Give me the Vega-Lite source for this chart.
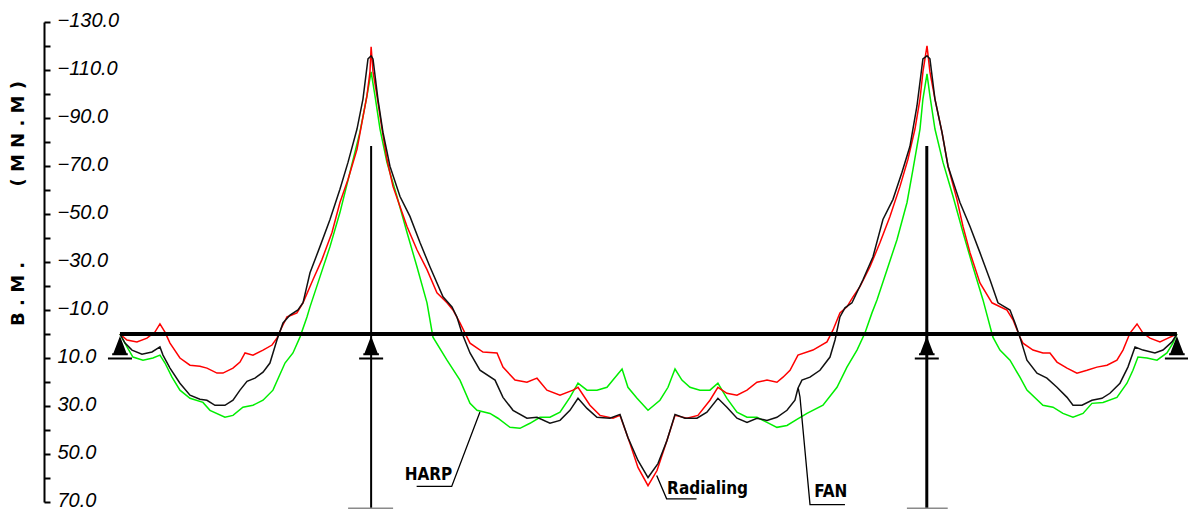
{
  "$schema": "https://vega.github.io/schema/vega-lite/v6.json",
  "autosize": {"type": "none"},
  "padding": {"left": 44, "top": 22, "right": 2, "bottom": 7},
  "width": 1142,
  "height": 480,
  "background": "white",
  "config": {"view": {"stroke": null}},
  "datasets": {
    "fan": [
      {"x":0,"bm":0},{"x":4.8,"bm":3.8},{"x":11.5,"bm":6.7},{"x":21.0,"bm":8.4},{"x":30.6,"bm":7.5},{"x":38.2,"bm":5.4},{"x":41.1,"bm":8.8},{"x":47.8,"bm":14.2},{"x":57.3,"bm":20.5},{"x":66.9,"bm":25.5},{"x":76.4,"bm":27.2},{"x":83.1,"bm":27.6},{"x":90.8,"bm":29.7},{"x":100.3,"bm":29.7},{"x":108.0,"bm":27.6},{"x":114.7,"bm":23.4},{"x":121.4,"bm":19.7},{"x":129.0,"bm":18.4},{"x":136.7,"bm":15.9},{"x":143.3,"bm":12.1},{"x":150.0,"bm":2.5},{"x":155.8,"bm":-4.6},{"x":162.5,"bm":-7.9},{"x":170.1,"bm":-10.0},{"x":174.9,"bm":-13.0},{"x":181.6,"bm":-25.5},{"x":191.1,"bm":-36.4},{"x":200.7,"bm":-47.7},{"x":210.2,"bm":-60.3},{"x":217.9,"bm":-71.5},{"x":226.5,"bm":-85.4},{"x":232.2,"bm":-97.9},{"x":237.0,"bm":-114.6},{"x":240.0,"bm":-115.9},{"x":241.8,"bm":-114.6},{"x":246.5,"bm":-97.9},{"x":251.3,"bm":-84.1},{"x":258.0,"bm":-69.9},{"x":267.6,"bm":-57.3},{"x":277.1,"bm":-49.0},{"x":286.7,"bm":-38.1},{"x":296.2,"bm":-28.0},{"x":308.7,"bm":-15.5},{"x":317.3,"bm":-11.3},{"x":322.0,"bm":-7.1},{"x":326.8,"bm":-0.4},{"x":334.5,"bm":7.9},{"x":344.0,"bm":15.1},{"x":358.4,"bm":19.2},{"x":366.0,"bm":26.4},{"x":375.6,"bm":31.8},{"x":388.9,"bm":35.1},{"x":398.5,"bm":34.7},{"x":410.9,"bm":37.2},{"x":420.5,"bm":36.0},{"x":430.0,"bm":31.8},{"x":437.7,"bm":26.8},{"x":446.3,"bm":31.0},{"x":455.8,"bm":34.7},{"x":468.2,"bm":35.1},{"x":477.8,"bm":33.5},{"x":485.4,"bm":43.1},{"x":495.0,"bm":52.7},{"x":504.6,"bm":59.8},{"x":514.1,"bm":54.0},{"x":522.7,"bm":44.4},{"x":530.4,"bm":33.5},{"x":539.9,"bm":35.1},{"x":551.4,"bm":35.1},{"x":560.9,"bm":32.6},{"x":571.4,"bm":26.8},{"x":580.0,"bm":30.5},{"x":589.6,"bm":35.1},{"x":599.2,"bm":36.8},{"x":608.7,"bm":35.1},{"x":618.3,"bm":36.0},{"x":627.8,"bm":34.7},{"x":637.4,"bm":31.8},{"x":645.0,"bm":27.6},{"x":647.9,"bm":22.6},{"x":651.7,"bm":19.2},{"x":659.4,"bm":18.0},{"x":668.9,"bm":15.1},{"x":678.5,"bm":9.6},{"x":683.3,"bm":2.5},{"x":688.0,"bm":-7.1},{"x":692.8,"bm":-10.9},{"x":699.5,"bm":-13.0},{"x":710.0,"bm":-22.6},{"x":719.6,"bm":-32.2},{"x":729.1,"bm":-47.7},{"x":738.7,"bm":-56.1},{"x":747.3,"bm":-67.4},{"x":754.9,"bm":-78.2},{"x":761.6,"bm":-95.0},{"x":767.3,"bm":-114.6},{"x":771.2,"bm":-115.9},{"x":774.0,"bm":-114.6},{"x":778.8,"bm":-97.9},{"x":785.5,"bm":-84.1},{"x":791.3,"bm":-69.9},{"x":802.7,"bm":-54.8},{"x":812.3,"bm":-44.8},{"x":821.8,"bm":-33.9},{"x":831.4,"bm":-22.6},{"x":839.0,"bm":-13.0},{"x":850.5,"bm":-10.0},{"x":855.3,"bm":-4.6},{"x":860.0,"bm":1.3},{"x":866.7,"bm":10.9},{"x":876.3,"bm":16.3},{"x":885.8,"bm":18.4},{"x":895.4,"bm":22.2},{"x":905.0,"bm":26.4},{"x":910.7,"bm":29.7},{"x":919.3,"bm":29.7},{"x":928.8,"bm":27.6},{"x":938.4,"bm":26.8},{"x":946.0,"bm":24.7},{"x":955.6,"bm":20.5},{"x":963.2,"bm":13.8},{"x":970.0,"bm":5.4},{"x":977.6,"bm":6.7},{"x":989.0,"bm":7.9},{"x":996.7,"bm":6.7},{"x":1005.3,"bm":3.3},{"x":1010,"bm":0}
    ],
    "radialing": [
      {"x":0,"bm":0},{"x":6.7,"bm":2.5},{"x":16.2,"bm":3.3},{"x":25.8,"bm":1.7},{"x":33.4,"bm":-0.8},{"x":38.2,"bm":-4.2},{"x":43.0,"bm":-0.8},{"x":47.8,"bm":3.8},{"x":57.3,"bm":10.0},{"x":66.9,"bm":13.0},{"x":76.4,"bm":13.4},{"x":83.1,"bm":14.2},{"x":92.7,"bm":16.3},{"x":98.4,"bm":16.3},{"x":108.0,"bm":14.2},{"x":114.7,"bm":11.7},{"x":119.5,"bm":7.9},{"x":127.1,"bm":8.8},{"x":136.7,"bm":6.7},{"x":145.3,"bm":4.6},{"x":150.0,"bm":1.7},{"x":154.8,"bm":-2.9},{"x":159.6,"bm":-7.1},{"x":169.1,"bm":-8.8},{"x":174.9,"bm":-13.0},{"x":184.4,"bm":-22.6},{"x":193.0,"bm":-31.0},{"x":202.6,"bm":-42.3},{"x":210.2,"bm":-54.8},{"x":217.9,"bm":-64.4},{"x":226.5,"bm":-77.0},{"x":231.3,"bm":-88.3},{"x":236.0,"bm":-99.2},{"x":238.9,"bm":-109.2},{"x":240.0,"bm":-119.7},{"x":241.8,"bm":-109.2},{"x":245.6,"bm":-99.2},{"x":250.4,"bm":-85.4},{"x":255.1,"bm":-72.8},{"x":260.9,"bm":-61.5},{"x":267.6,"bm":-53.1},{"x":274.3,"bm":-44.8},{"x":283.8,"bm":-35.1},{"x":293.4,"bm":-26.8},{"x":302.9,"bm":-17.2},{"x":312.5,"bm":-13.0},{"x":318.2,"bm":-10.0},{"x":324.9,"bm":-4.6},{"x":331.6,"bm":1.3},{"x":334.5,"bm":3.8},{"x":346.9,"bm":7.5},{"x":360.3,"bm":7.9},{"x":366.0,"bm":13.8},{"x":377.5,"bm":19.2},{"x":388.9,"bm":20.1},{"x":398.5,"bm":18.4},{"x":408.0,"bm":23.4},{"x":420.5,"bm":25.5},{"x":432.9,"bm":23.4},{"x":437.7,"bm":22.2},{"x":449.1,"bm":29.7},{"x":458.7,"bm":33.9},{"x":471.1,"bm":35.1},{"x":477.8,"bm":33.9},{"x":487.4,"bm":45.6},{"x":495.0,"bm":55.6},{"x":504.6,"bm":63.2},{"x":513.2,"bm":56.9},{"x":522.7,"bm":44.4},{"x":530.4,"bm":33.9},{"x":541.8,"bm":35.1},{"x":552.3,"bm":33.9},{"x":563.8,"bm":27.6},{"x":571.4,"bm":22.2},{"x":580.0,"bm":24.7},{"x":589.6,"bm":25.5},{"x":599.2,"bm":23.4},{"x":608.7,"bm":20.1},{"x":618.3,"bm":19.2},{"x":627.8,"bm":20.1},{"x":633.6,"bm":18.0},{"x":640.3,"bm":15.1},{"x":647.9,"bm":8.8},{"x":662.2,"bm":6.7},{"x":675.6,"bm":3.3},{"x":681.4,"bm":-1.7},{"x":688.0,"bm":-8.8},{"x":694.7,"bm":-11.3},{"x":700.5,"bm":-15.5},{"x":707.1,"bm":-19.7},{"x":716.7,"bm":-28.0},{"x":726.3,"bm":-38.1},{"x":735.8,"bm":-49.0},{"x":745.4,"bm":-61.5},{"x":753.0,"bm":-72.8},{"x":759.7,"bm":-85.4},{"x":764.5,"bm":-97.9},{"x":767.3,"bm":-109.2},{"x":771.2,"bm":-120.1},{"x":774.0,"bm":-109.2},{"x":778.8,"bm":-97.9},{"x":785.5,"bm":-84.1},{"x":791.3,"bm":-69.9},{"x":799.8,"bm":-56.1},{"x":805.6,"bm":-44.8},{"x":812.3,"bm":-33.9},{"x":821.8,"bm":-21.3},{"x":833.3,"bm":-13.0},{"x":847.6,"bm":-10.0},{"x":853.4,"bm":-5.9},{"x":860.0,"bm":1.3},{"x":862.9,"bm":3.8},{"x":872.5,"bm":6.7},{"x":882.0,"bm":7.9},{"x":888.7,"bm":7.9},{"x":895.4,"bm":11.7},{"x":905.0,"bm":14.2},{"x":914.5,"bm":16.3},{"x":924.1,"bm":15.1},{"x":933.6,"bm":13.8},{"x":943.2,"bm":13.0},{"x":952.7,"bm":10.9},{"x":958.5,"bm":6.7},{"x":965.2,"bm":-0.4},{"x":971.9,"bm":-4.2},{"x":977.6,"bm":-0.4},{"x":984.3,"bm":1.7},{"x":993.8,"bm":3.3},{"x":1001.5,"bm":1.7},{"x":1010,"bm":0}
    ],
    "harp": [
      {"x":0,"bm":0},{"x":6.7,"bm":5.4},{"x":12.4,"bm":9.6},{"x":22.0,"bm":10.9},{"x":31.5,"bm":10.0},{"x":38.2,"bm":8.8},{"x":43.0,"bm":12.1},{"x":49.7,"bm":18.0},{"x":57.3,"bm":23.4},{"x":66.9,"bm":26.8},{"x":79.3,"bm":28.5},{"x":86.0,"bm":31.8},{"x":100.3,"bm":34.7},{"x":108.0,"bm":33.9},{"x":117.5,"bm":30.5},{"x":127.1,"bm":29.7},{"x":136.7,"bm":27.6},{"x":146.2,"bm":23.4},{"x":157.7,"bm":12.1},{"x":165.3,"bm":7.9},{"x":172.0,"bm":1.3},{"x":178.7,"bm":-7.1},{"x":181.6,"bm":-11.3},{"x":191.1,"bm":-23.8},{"x":200.7,"bm":-36.4},{"x":210.2,"bm":-50.6},{"x":219.8,"bm":-67.4},{"x":229.3,"bm":-84.1},{"x":236.0,"bm":-99.2},{"x":240.0,"bm":-109.2},{"x":243.7,"bm":-99.2},{"x":248.5,"bm":-85.4},{"x":255.1,"bm":-71.5},{"x":264.7,"bm":-57.3},{"x":274.3,"bm":-42.3},{"x":283.8,"bm":-28.0},{"x":293.4,"bm":-13.0},{"x":299.1,"bm":1.3},{"x":312.5,"bm":10.9},{"x":324.9,"bm":19.2},{"x":334.5,"bm":28.9},{"x":341.2,"bm":31.8},{"x":353.6,"bm":33.1},{"x":361.2,"bm":35.1},{"x":372.7,"bm":38.9},{"x":382.2,"bm":39.3},{"x":391.8,"bm":37.2},{"x":401.4,"bm":34.7},{"x":410.9,"bm":34.7},{"x":420.5,"bm":32.6},{"x":430.0,"bm":26.4},{"x":437.7,"bm":20.5},{"x":446.3,"bm":23.4},{"x":455.8,"bm":23.4},{"x":465.4,"bm":22.2},{"x":471.1,"bm":19.2},{"x":479.8,"bm":14.6},{"x":485.4,"bm":22.2},{"x":494.1,"bm":26.8},{"x":504.6,"bm":31.8},{"x":516.0,"bm":27.6},{"x":523.7,"bm":22.2},{"x":530.4,"bm":14.6},{"x":537.0,"bm":19.2},{"x":544.7,"bm":22.2},{"x":554.2,"bm":23.4},{"x":563.8,"bm":23.4},{"x":571.4,"bm":20.5},{"x":580.0,"bm":26.8},{"x":589.6,"bm":32.6},{"x":599.2,"bm":34.7},{"x":608.7,"bm":34.7},{"x":618.3,"bm":36.8},{"x":627.8,"bm":38.9},{"x":637.4,"bm":38.1},{"x":646.9,"bm":35.6},{"x":656.5,"bm":33.1},{"x":671.8,"bm":29.7},{"x":685.2,"bm":22.2},{"x":694.7,"bm":13.8},{"x":704.3,"bm":6.7},{"x":711.9,"bm":-0.4},{"x":718.6,"bm":-8.8},{"x":723.4,"bm":-14.2},{"x":733.0,"bm":-26.8},{"x":742.5,"bm":-39.3},{"x":752.1,"bm":-54.8},{"x":757.8,"bm":-68.6},{"x":764.5,"bm":-85.4},{"x":767.3,"bm":-97.9},{"x":771.2,"bm":-108.4},{"x":774.0,"bm":-99.2},{"x":778.8,"bm":-85.4},{"x":786.5,"bm":-71.5},{"x":796.1,"bm":-57.3},{"x":805.6,"bm":-42.3},{"x":815.1,"bm":-28.0},{"x":824.7,"bm":-14.2},{"x":834.2,"bm":1.3},{"x":840.9,"bm":6.7},{"x":850.5,"bm":10.9},{"x":860.0,"bm":18.0},{"x":866.7,"bm":23.4},{"x":882.0,"bm":29.7},{"x":891.6,"bm":30.5},{"x":901.1,"bm":33.1},{"x":910.7,"bm":34.7},{"x":920.3,"bm":33.1},{"x":928.8,"bm":28.9},{"x":939.4,"bm":28.5},{"x":952.7,"bm":26.4},{"x":962.3,"bm":20.5},{"x":968.0,"bm":15.1},{"x":972.8,"bm":9.6},{"x":981.4,"bm":10.0},{"x":991.0,"bm":10.9},{"x":1000.5,"bm":7.9},{"x":1006.2,"bm":3.8},{"x":1010,"bm":0}
    ],
    "beam": [{"x": 0, "x2": 1010, "bm": 0}],
    "pylons": [{"x": 240, "bm": -78.3, "bm2": 72.5}],
    "pylons2": [{"x": 771, "bm": -78.3, "bm2": 72.5}],
    "footings": [{"x": 218, "x2": 261, "bm": 72.6}, {"x": 752, "x2": 791, "bm": 72.6}],
    "supports": [{"x": 0, "bm": 5.8}, {"x": 240, "bm": 5.8}, {"x": 771, "bm": 5.8}, {"x": 1010, "bm": 5.8}],
    "leaders": [
      {"label": "HARP", "x": 283.5, "bm": 63.5}, {"label": "HARP", "x": 317.0, "bm": 63.5}, {"label": "HARP", "x": 344.0, "bm": 32.5},
      {"label": "Radialing", "x": 512.9, "bm": 59.0}, {"label": "Radialing", "x": 522.4, "bm": 68.7}, {"label": "Radialing", "x": 551.0, "bm": 68.7},
      {"label": "FAN", "x": 648.2, "bm": 22.7}, {"label": "FAN", "x": 649.8, "bm": 26.2}, {"label": "FAN", "x": 659.4, "bm": 71.1}, {"label": "FAN", "x": 692.8, "bm": 71.1}
    ],
    "labels": [
      {"label": "HARP", "x": 294.8, "bm": 58.6},
      {"label": "Radialing", "x": 561.5, "bm": 64.6},
      {"label": "FAN", "x": 679.2, "bm": 66.0}
    ]
  },
  "encoding": {
    "x": {"field": "x", "type": "quantitative", "scale": {"domain": [-72.6, 1018.7], "nice": false, "zero": false}, "axis": null},
    "y": {
      "field": "bm", "type": "quantitative",
      "scale": {"domain": [-130, 70], "reverse": true, "nice": false, "zero": false},
      "axis": {
        "orient": "left",
        "values": [-130,-120,-110,-100,-90,-80,-70,-60,-50,-40,-30,-20,-10,0,10,20,30,40,50,60,70],
        "labelExpr": "(datum.value + 130) % 20 === 0 ? format(datum.value, '.1f') : ''",
        "grid": false,
        "domainColor": "black", "domainWidth": 2,
        "tickColor": "black", "tickWidth": 2, "tickSize": -6,
        "labelAlign": "left", "labelPadding": -7, "labelBaseline": "middle", "labelOffset": -2,
        "labelFont": "Liberation Sans Narrow, Liberation Sans, sans-serif",
        "labelFontStyle": "italic", "labelFontSize": 20, "labelColor": "black", "labelOverlap": false,
        "title": "B\u00a0.\u00a0M\u00a0.\u00a0\u00a0\u00a0\u00a0\u00a0\u00a0\u00a0\u00a0\u00a0\u00a0\u00a0\u00a0(\u00a0M\u00a0N\u00a0.\u00a0M\u00a0)",
        "titleFont": "DejaVu Sans", "titleFontWeight": "bold", "titleFontSize": 18, "titleColor": "black",
        "titleAngle": -90, "titleAlign": "center", "titleBaseline": "middle",
        "titleX": -26, "titleY": 181
      }
    }
  },
  "layer": [
    {"data": {"name": "pylons"}, "mark": {"type": "rule", "color": "black", "strokeWidth": 2}, "encoding": {"y2": {"field": "bm2"}}},
    {"data": {"name": "pylons2"}, "mark": {"type": "rule", "color": "black", "strokeWidth": 3}, "encoding": {"y2": {"field": "bm2"}}},
    {"data": {"name": "footings"}, "mark": {"type": "rule", "color": "#8a8a8a", "strokeWidth": 1.5}, "encoding": {"x2": {"field": "x2"}}},
    {"data": {"name": "harp"}, "mark": {"type": "line", "color": "#00ee00", "strokeWidth": 1.5}, "encoding": {}},
    {"data": {"name": "radialing"}, "mark": {"type": "line", "color": "#ff0000", "strokeWidth": 1.5}, "encoding": {}},
    {"data": {"name": "fan"}, "mark": {"type": "line", "color": "#111111", "strokeWidth": 1.5}, "encoding": {}},
    {"data": {"name": "beam"}, "mark": {"type": "rule", "color": "black", "strokeWidth": 4}, "encoding": {"x2": {"field": "x2"}}},
    {"data": {"name": "supports"}, "mark": {"type": "point", "filled": true, "color": "black", "opacity": 1, "strokeWidth": 0, "size": 576,
      "shape": "M0,-1L-0.55,0.45L0.55,0.45Z M-0.65,0.45L0.65,0.45L0.65,0.62L-0.65,0.62Z M-1,0.8L1,0.8L1,0.97L-1,0.97Z"}, "encoding": {}},
    {"data": {"name": "leaders"}, "mark": {"type": "line", "color": "black", "strokeWidth": 1.3}, "encoding": {"detail": {"field": "label"}}},
    {"data": {"name": "labels"}, "mark": {"type": "text", "color": "black", "fontWeight": "bold", "fontSize": 17, "align": "center", "baseline": "middle",
      "font": "Liberation Sans Narrow, DejaVu Sans Condensed, Liberation Sans, sans-serif"}, "encoding": {"text": {"field": "label"}}}
  ]
}
